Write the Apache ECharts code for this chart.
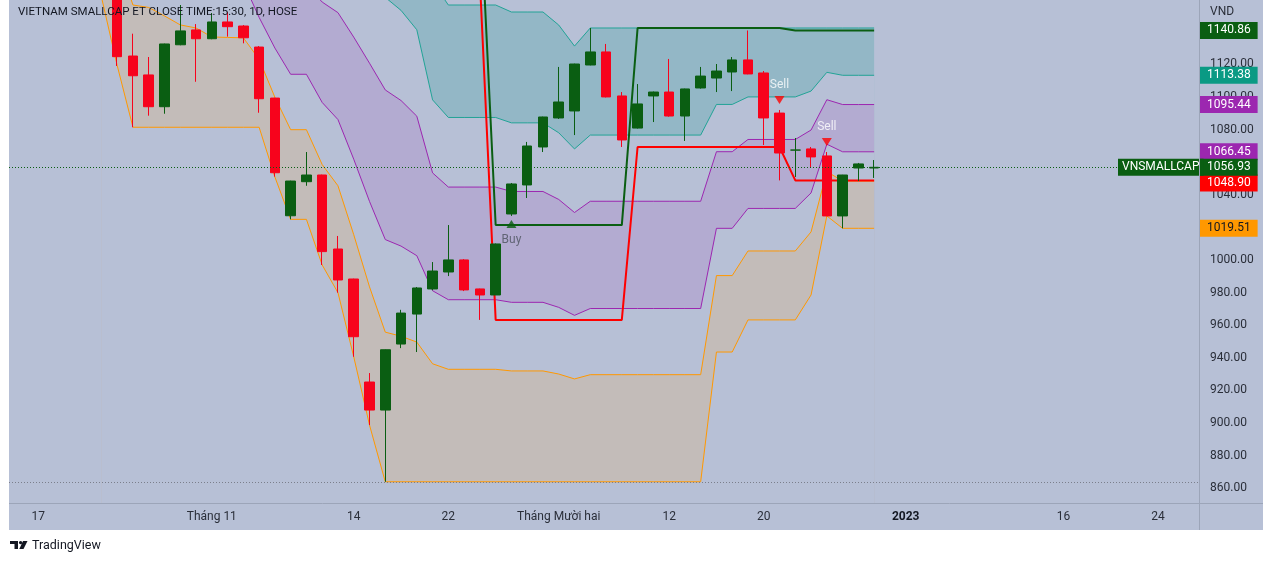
<!DOCTYPE html>
<html>
<head>
<meta charset="utf-8">
<title>VNSMALLCAP</title>
<script src="https://cdn.jsdelivr.net/npm/echarts@6.0.0/dist/echarts.min.js"></script>
<style>
html,body{margin:0;padding:0;background:#ffffff;}
#chart{width:1274px;height:566px;}
</style>
</head>
<body>
<div id="chart"></div>
<script>
// ---------- DATA ----------
const dates = [
 '2022-10-17','2022-10-18','2022-10-19','2022-10-20','2022-10-21',
 '2022-10-24','2022-10-25','2022-10-26','2022-10-27','2022-10-28',
 '2022-10-31','2022-11-01','2022-11-02','2022-11-03','2022-11-04',
 '2022-11-07','2022-11-08','2022-11-09','2022-11-10','2022-11-11',
 '2022-11-14','2022-11-15','2022-11-16','2022-11-17','2022-11-18',
 '2022-11-21','2022-11-22','2022-11-23','2022-11-24','2022-11-25',
 '2022-11-28','2022-11-29','2022-11-30','2022-12-01','2022-12-02',
 '2022-12-05','2022-12-06','2022-12-07','2022-12-08','2022-12-09',
 '2022-12-12','2022-12-13','2022-12-14','2022-12-15','2022-12-16',
 '2022-12-19','2022-12-20','2022-12-21','2022-12-22','2022-12-23',
 '2022-12-26','2022-12-27','2022-12-28','2022-12-29','2022-12-30',
 '2023-01-02','2023-01-03','2023-01-04','2023-01-05','2023-01-06',
 '2023-01-09','2023-01-10','2023-01-11','2023-01-12','2023-01-13',
 '2023-01-16','2023-01-17','2023-01-18','2023-01-19','2023-01-20',
 '2023-01-23','2023-01-24','2023-01-25','2023-01-26'
];

const tickDates  = ['2022-10-17','2022-11-01','2022-11-14','2022-11-22','2022-12-01','2022-12-12','2022-12-20','2023-01-02','2023-01-16','2023-01-24'];
const tickLabels = ['17','Tháng 11','14','22','Tháng Mười hai','12','20','2023','16','24'];
const priceTicks = [860,880,900,920,940,960,980,1000,1020,1040,1060,1080,1100,1120];

const openV = [null,null,null,null,null,
 1166.0,1125.2,1113.6,1094.1,1132.1,
 1141.2,1135.8,1146.1,1143.6,1130.7,
 1099.4,1027.2,1048.1,1052.2,1006.8,
 988.4,925.2,908.0,948.5,966.9,
 982.3,992.7,1000.1,982.3,978.6,
 1028.3,1046.1,1069.4,1087.2,1091.5,
 1119.7,1127.7,1100.7,1081.0,1100.7,
 1103.1,1088.4,1105.6,1111.7,1115.4,
 1122.8,1114.8,1090.2,1067.5,1068.2,
 1063.9,1027.1,1056.5,1056.5];
const closeV = [null,null,null,null,null,
 1124.8,1113.1,1094.1,1132.6,1140.6,
 1135.8,1146.1,1143.2,1136.4,1099.0,
 1053.6,1048.5,1052.2,1005.2,987.8,
 953.0,908.0,945.0,967.5,982.9,
 993.3,1000.1,981.7,978.6,1009.9,
 1046.7,1070.0,1087.8,1097.0,1120.3,
 1127.7,1100.1,1073.7,1095.8,1103.1,
 1088.4,1105.0,1112.9,1116.0,1122.8,
 1114.2,1087.2,1065.7,1067.5,1063.3,
 1027.1,1052.2,1059.0,1056.93];
const lowV = [null,null,null,null,null,
 1119.1,1081.5,1088.6,1089.8,1131.8,
 1109.4,1135.5,1137.1,1133.0,1090.4,
 1051.2,1025.0,1045.6,997.0,980.0,
 940.7,898.8,864.0,946.0,943.6,
 981.5,990.2,981.0,963.3,978.6,
 1027.1,1038.1,1066.3,1086.6,1076.7,
 1119.5,1099.8,1069.4,1080.7,1084.7,
 1088.0,1073.1,1105.2,1103.1,1103.7,
 1114.0,1070.6,1048.9,1051.0,1056.5,
 1027.0,1019.51,1048.5,1050.4];
const highV = [null,null,null,null,null,
 1170.7,1138.9,1124.6,1132.8,1156.5,
 1144.8,1151.6,1152.2,1144.2,1131.3,
 1099.6,1048.7,1066.3,1052.4,1014.8,
 988.6,930.7,945.2,969.5,983.5,
 998.8,1021.5,1000.6,982.5,1010.2,
 1047.3,1072.5,1088.0,1118.5,1120.5,
 1142.4,1132.6,1103.1,1108.0,1103.4,
 1123.4,1105.2,1118.5,1120.3,1124.6,
 1140.86,1116.0,1092.1,1074.9,1069.4,
 1066.3,1052.3,1059.6,1061.4];

// band lines (orange / purple / teal), lower & upper edges
const orangeLow = [null,null,null,null,
 1161.5,1119.4,1081.5,1081.5,1081.5,1081.5,1081.5,1081.5,1081.5,1081.5,1081.5,
 1051.0,1025.0,1025.0,997.0,980.0,940.7,898.8,
 864.0,864.0,864.0,864.0,864.0,864.0,864.0,864.0,864.0,864.0,864.0,
 864.0,864.0,864.0,864.0,864.0,864.0,864.0,864.0,864.0,864.0,
 943.6,943.6,963.3,963.3,963.3,963.3,978.6,1027.1,1019.51,1019.51,1019.51];
const orangeHigh = [null,null,null,null,
 1200.0,1185.6,1156.5,1155.0,1149.8,1144.3,1142.4,1136.9,1136.6,1136.4,1123.2,
 1099.9,1080.0,1080.0,1058.6,1045.6,1015.6,983.6,
 955.8,953.3,949.7,936.4,933.0,933.0,933.0,933.0,932.0,932.0,932.0,
 930.1,927.1,929.7,929.7,929.7,929.7,929.7,929.7,929.7,929.7,
 990.5,990.5,1005.6,1005.6,1005.6,1005.6,1017.3,1054.3,1048.5,1048.5,1048.5];
const purpleLow = [null,null,null,null,
 1230.0,1226.6,1202.9,1200.5,1192.1,1183.1,1180.1,1171.2,1170.7,1170.4,1148.9,
 1130.1,1114.0,1114.0,1096.7,1086.2,1061.9,1036.0,
 1012.6,1008.6,1002.7,981.2,975.7,975.7,975.7,975.7,974.1,974.1,974.1,
 971.0,966.1,970.3,970.3,970.3,970.3,970.3,970.3,970.3,970.3,
 1019.5,1019.5,1031.7,1031.7,1031.7,1031.7,1041.2,1071.1,1066.45,1066.45,1066.45];
const purpleHigh = [null,null,null,null,
 1300.0,1292.8,1277.9,1273.9,1260.3,1245.9,1240.9,1226.5,1225.8,1225.2,1190.6,
 1178.9,1169.0,1169.0,1158.3,1151.8,1136.8,1120.8,
 1104.4,1097.9,1088.3,1053.5,1044.8,1044.8,1044.8,1044.8,1042.1,1042.1,1042.1,
 1037.2,1029.2,1036.1,1036.1,1036.1,1036.1,1036.1,1036.1,1036.1,1036.1,
 1066.5,1066.5,1074.0,1074.0,1074.0,1074.0,1079.8,1098.4,1095.44,1095.44,1095.44];
const tealLow = [null,null,null,null,
 1340.0,1333.8,1324.3,1319.4,1302.6,1284.8,1278.6,1260.8,1259.9,1259.2,1216.3,
 1209.1,1203.0,1203.0,1196.4,1192.4,1183.1,1173.2,
 1161.2,1153.2,1141.3,1098.3,1087.5,1087.5,1087.5,1087.5,1084.2,1084.2,1084.2,
 1078.1,1068.2,1076.7,1076.7,1076.7,1076.7,1076.7,1076.7,1076.7,1076.7,
 1095.5,1095.5,1100.1,1100.1,1100.1,1100.1,1103.7,1115.2,1113.38,1113.38,1113.38];
const tealHigh = [null,null,null,null,
 1410.0,1400.0,1399.3,1392.9,1370.9,1347.6,1339.5,1316.2,1315.0,1314.1,1258.0,
 1258.0,1258.0,1258.0,1258.0,1258.0,1258.0,1258.0,
 1253.0,1242.5,1227.0,1170.7,1156.5,1156.5,1156.5,1156.5,1152.2,1152.2,1152.2,
 1144.2,1131.3,1142.4,1142.4,1142.4,1142.4,1142.4,1142.4,1142.4,1142.4,
 1142.4,1142.4,1142.4,1142.4,1142.4,1142.4,1142.4,1142.4,1142.4,1142.4,1142.4];

// trailing step lines
const stopRed = [null,null,null,null,null,null,null,null,null,null,
 null,null,null,null,null,null,null,null,null,null,
 null,null,null,null,null,null,null,null,
 1171.5,963.3,963.3,963.3,963.3,963.3,963.3,963.3,963.3,963.3,
 1069.4,1069.4,1069.4,1069.4,1069.4,1069.4,1069.4,1069.4,1069.4,1069.4,
 1048.90,1048.90,1048.90,1048.90,1048.90,1048.90];
const stopGreen = [null,null,null,null,null,null,null,null,null,null,
 null,null,null,null,null,null,null,null,null,null,
 null,null,null,null,null,null,null,null,
 1222.0,1021.5,1021.5,1021.5,1021.5,1021.5,1021.5,1021.5,1021.5,1021.5,
 1142.4,1142.4,1142.4,1142.4,1142.4,1142.4,1142.4,1142.4,1142.4,1142.4,
 1140.86,1140.86,1140.86,1140.86,1140.86,1140.86];

const buyDates  = ['2022-11-28'];
const sellDates = ['2022-12-21','2022-12-26'];

// ---------- BUILD ----------
const FONT = 'Roboto, "Noto Sans", sans-serif';
const BG = '#b7c0d6';
const GREEN = '#0a5e12';
const RED = '#f7031c';
const idxOf = d => dates.indexOf(d);
const last = a => a[a.length - 1];

const candleData = [];
for (let i = 0; i < openV.length; i++) {
  if (openV[i] != null) candleData.push([i, openV[i], closeV[i], lowV[i], highV[i]]);
}
const pts = arr => { const o = []; arr.forEach((v, i) => { if (v != null) o.push([i, v]); }); return o; };

// each band: upper edge filled downwards with band colour, lower edge filled downwards with background
function band(lo, hi, lineColor, fillColor) {
  return [
    { type: 'line', data: pts(hi), symbol: 'none', silent: true, z: 1,
      lineStyle: { color: lineColor, width: 1 }, areaStyle: { color: fillColor, opacity: 1, origin: 'start' } },
    { type: 'line', data: pts(lo), symbol: 'none', silent: true, z: 1,
      lineStyle: { color: lineColor, width: 1 }, areaStyle: { color: BG, opacity: 1, origin: 'start' } }
  ];
}

const tickIdx = tickDates.map(idxOf);
const noLine = { color: 'rgba(0,0,0,0)', width: 0 };
const tagLabel = (bg, fg, text) => ({
  show: true, position: 'end', distance: [1, 0], backgroundColor: bg, color: fg,
  padding: [2, 7, 2, 7], fontSize: 12, lineHeight: 13, fontFamily: FONT, opacity: 1,
  formatter: text
});
const tag = (v, bg, fg, shiftPx) => ({
  yAxis: v - (shiftPx || 0) * (1159.57 - 850.98) / 503,
  lineStyle: noLine, label: tagLabel(bg, fg, v.toFixed(2))
});
const tagItems = [
  tag(last(orangeLow), '#ff9800', '#131722'),
  tag(last(stopRed), '#ff0000', '#ffffff', 2.5),
  tag(last(purpleLow), '#9c27b0', '#ffffff'),
  tag(last(purpleHigh), '#9c27b0', '#ffffff'),
  tag(last(tealLow), '#0a9a84', '#ffffff'),
  tag(last(stopGreen), GREEN, '#ffffff'),
  tag(last(closeV), GREEN, '#ffffff'),
  { yAxis: last(closeV), lineStyle: noLine,
    label: Object.assign(tagLabel(GREEN, '#ffffff', 'VNSMALLCAP'), { distance: [-81, 0], padding: [2, 4, 2, 4] }) }
];

const series = [].concat(
  band(tealLow, tealHigh, '#22a396', '#93b7c6'),
  band(purpleLow, purpleHigh, '#9c27b0', '#b3abd1'),
  band(orangeLow, orangeHigh, '#ff9800', '#c3bcb9'),
  [
    { type: 'line', data: [], z: 2, silent: true,
      markLine: { symbol: ['none', 'none'], silent: true, animation: false,
        data: [
          { yAxis: last(closeV), lineStyle: { type: [1, 2], color: GREEN, width: 1 }, label: { show: false } },
          { yAxis: Math.min(...lowV.filter(v => v != null)), lineStyle: { type: [1, 2], color: '#7b7f8c', width: 1 }, label: { show: false } }
        ] } },
    { type: 'line', data: pts(stopRed), symbol: 'none', silent: true,
      lineStyle: { color: '#ff0000', width: 2 }, z: 2 },
    { type: 'line', data: pts(stopGreen), symbol: 'none', silent: true,
      lineStyle: { color: GREEN, width: 2 }, z: 2 },
    { type: 'candlestick', data: candleData, encode: { x: 0, y: [1, 2, 3, 4] },
      barWidth: 10, z: 3, silent: true,
      itemStyle: { color: GREEN, color0: RED, borderColor: GREEN, borderColor0: RED, borderColorDoji: GREEN, borderWidth: 1 } },
    { type: 'scatter', z: 5, silent: true,
      data: buyDates.map(d => { const i = idxOf(d); return [i, lowV[i]]; }),
      symbol: 'triangle', symbolSize: [10, 8], symbolOffset: [0, 8],
      itemStyle: { color: GREEN },
      label: { show: true, position: 'bottom', distance: 6, formatter: 'Buy', color: '#4c525e', fontSize: 12, fontFamily: FONT } },
    { type: 'scatter', z: 5, silent: true,
      data: sellDates.map(d => { const i = idxOf(d); return [i, highV[i]]; }),
      symbol: 'path://M0,0 L10,0 L5,8 Z', symbolSize: [10, 8], symbolOffset: [0, -10],
      itemStyle: { color: '#ff0000' },
      label: { show: true, position: 'top', distance: 5, formatter: 'Sell', color: '#ffffff', fontSize: 12, fontFamily: FONT } },
    { type: 'line', data: [], z: 10, silent: true,
      markLine: { symbol: ['none', 'none'], silent: true, animation: false, data: tagItems } }
  ]
);

const chart = echarts.init(document.getElementById('chart'), null, { renderer: 'canvas' });
chart.setOption({
  animation: false,
  backgroundColor: '#ffffff',
  textStyle: { fontFamily: FONT },
  grid: { left: 9, right: 75, top: 0, bottom: 63, containLabel: false },
  xAxis: {
    type: 'value', min: -1.86, max: 73.6,
    axisLine: { show: false }, axisTick: { show: false }, splitLine: { show: false },
    axisLabel: {
      customValues: tickIdx, margin: 8, color: '#2a2e39', fontSize: 12, fontFamily: FONT,
      formatter: v => { const t = tickLabels[tickIdx.indexOf(v)] || ''; return /^\d{4}$/.test(t) ? '{b|' + t + '}' : t; },
      rich: { b: { fontWeight: 'bold', fontSize: 12, color: '#131722', fontFamily: FONT } }
    }
  },
  yAxis: {
    type: 'value', position: 'right', min: 850.98, max: 1159.57, scale: true,
    axisLine: { show: false }, axisTick: { show: false }, splitLine: { show: false },
    axisLabel: { customValues: priceTicks, margin: 11, color: '#2a2e39', fontSize: 12, fontFamily: FONT,
      formatter: v => Number(v).toFixed(2) }
  },
  graphic: { elements: [
    { type: 'rect', z: -100, silent: true, shape: { x: 9, y: 0, width: 1254, height: 530 }, style: { fill: BG } },
    { type: 'line', z: 100, silent: true, shape: { x1: 9, y1: 503.5, x2: 1263, y2: 503.5 }, style: { stroke: '#9ca5b9', lineWidth: 1 } },
    { type: 'line', z: 100, silent: true, shape: { x1: 1199.5, y1: 0, x2: 1199.5, y2: 530 }, style: { stroke: '#9ca5b9', lineWidth: 1 } },
    { type: 'text', z: 100, silent: true, left: 18, top: 6,
      style: { text: 'VIETNAM SMALLCAP ET CLOSE TIME:15:30, 1D, HOSE', fill: '#131722', font: '11.5px ' + FONT } },
    { type: 'text', z: 100, silent: true, left: 1210, top: 6,
      style: { text: 'VND', fill: '#2a2e39', font: '12px ' + FONT } },
    { type: 'polygon', z: 100, silent: true, shape: { points: [[10,541],[18,541],[18,549],[14.5,549],[14.5,544],[10,544]] }, style: { fill: '#131722' } },
    { type: 'circle', z: 100, silent: true, shape: { cx: 20.6, cy: 542.6, r: 1.7 }, style: { fill: '#131722' } },
    { type: 'polygon', z: 100, silent: true, shape: { points: [[23,541],[27.5,541],[23.5,549],[19.3,549]] }, style: { fill: '#131722' } },
    { type: 'text', z: 100, silent: true, left: 32, top: 539,
      style: { text: 'TradingView', fill: '#131722', font: '12.5px ' + FONT } }
  ] },
  series: series
});
</script>
</body>
</html>
